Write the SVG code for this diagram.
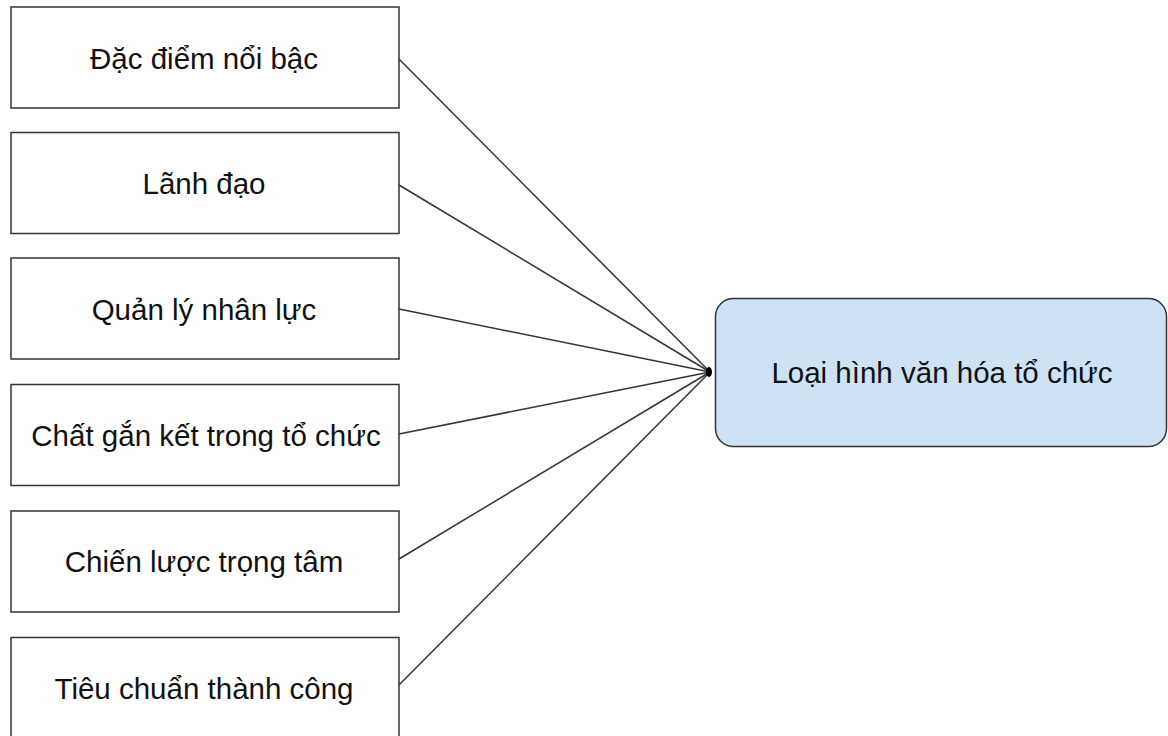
<svg xmlns="http://www.w3.org/2000/svg" width="1168" height="736" viewBox="0 0 1168 736">
  <defs>
    <style>
      .box { fill: #ffffff; stroke: #333333; stroke-width: 1.5; }
      .target { fill: #cfe2f3; stroke: #333333; stroke-width: 1.5; }
      .lbl { font-family: "Liberation Sans", Arial, sans-serif; font-size: 29.5px; fill: #111111; text-anchor: middle; }
      .edge { stroke: #333333; stroke-width: 1.5; fill: none; }
    </style>
  </defs>
  <rect width="1168" height="736" fill="#ffffff"/>

  <!-- connectors: every factor points into the culture type -->
  <g id="connectors">
    <line class="edge" x1="399" y1="59" x2="710" y2="372"/>
    <line class="edge" x1="399" y1="185" x2="710" y2="372"/>
    <line class="edge" x1="399" y1="309" x2="710" y2="372"/>
    <line class="edge" x1="399" y1="434" x2="710" y2="372"/>
    <line class="edge" x1="399" y1="559" x2="710" y2="372"/>
    <line class="edge" x1="399" y1="685" x2="710" y2="372"/>
    <ellipse cx="709" cy="372" rx="3" ry="5" fill="#000000"/>
  </g>

  <g id="n1">
    <rect class="box" x="11" y="7" width="388" height="101"/>
    <text class="lbl" x="204" y="69">Đặc điểm nổi bậc</text>
  </g>
  <g id="n2">
    <rect class="box" x="11" y="132.5" width="388" height="101"/>
    <text class="lbl" x="204" y="194">Lãnh đạo</text>
  </g>
  <g id="n3">
    <rect class="box" x="11" y="258" width="388" height="101"/>
    <text class="lbl" x="204" y="320">Quản lý nhân lực</text>
  </g>
  <g id="n4">
    <rect class="box" x="11" y="384.5" width="388" height="101"/>
    <text class="lbl" x="206" y="446">Chất gắn kết trong tổ chức</text>
  </g>
  <g id="n5">
    <rect class="box" x="11" y="511" width="388" height="101"/>
    <text class="lbl" x="204" y="572">Chiến lược trọng tâm</text>
  </g>
  <g id="n6">
    <rect class="box" x="11" y="637.5" width="388" height="101"/>
    <text class="lbl" x="204" y="699">Tiêu chuẩn thành công</text>
  </g>

  <g id="target">
    <rect class="target" x="715.5" y="298.5" width="451" height="148" rx="18" ry="18"/>
    <text class="lbl" x="942" y="383">Loại hình văn hóa tổ chức</text>
  </g>
</svg>
